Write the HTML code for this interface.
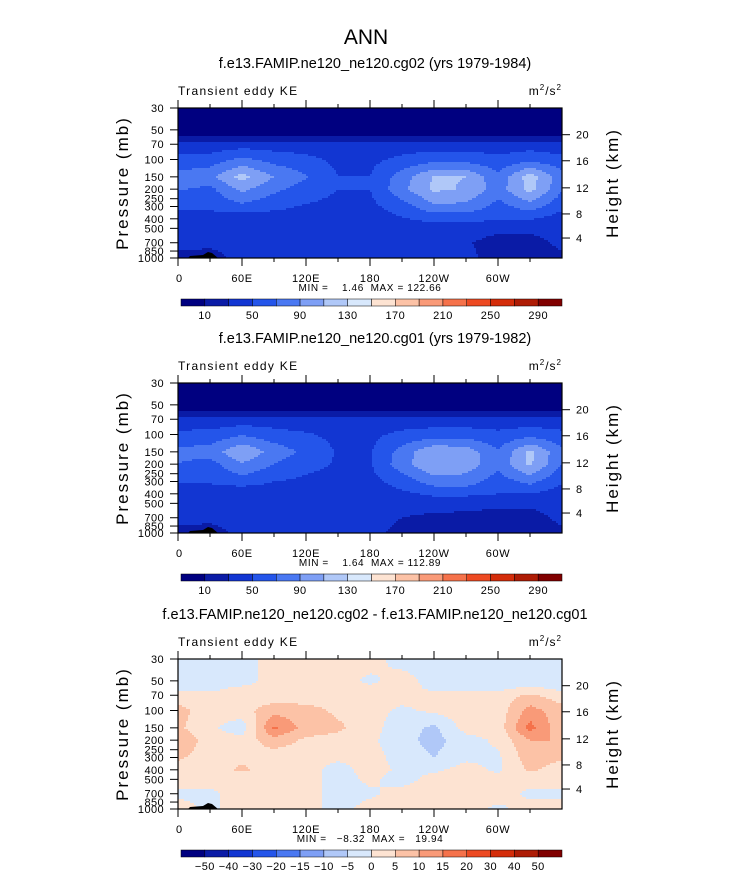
<!DOCTYPE html>
<html><head><meta charset="utf-8">
<style>
body{margin:0;background:#fff;}
svg{display:block;font-family:"Liberation Sans",sans-serif;}
text{white-space:pre;}
</style></head>
<body>
<svg id="fig" width="733" height="873" viewBox="0 0 733 873">
<text x="366" y="44" font-size="21" text-anchor="middle" fill="#000">ANN</text>
</svg>
<script>
// ---- data ----
const lons = [0,30,60,90,120,150,180,210,240,270,300,330,360];
const pLevels = [30,50,60,70,100,150,200,300,400,500,700,1000];
const keLevels = [10,30,50,70,90,110,130,150,170,190,210,230,250,270,290];
const keLabels = ['10','50','90','130','170','210','250','290'];
const diffLevels = [-50,-40,-30,-20,-15,-10,-5,0,5,10,15,20,30,40,50];
const diffLabels = ['−50','−40','−30','−20','−15','−10','−5','0','5','10','15','20','30','40','50'];
const lonTickLabels = ['0','60E','120E','180','120W','60W'];
const pTickValues = [30,50,70,100,150,200,250,300,400,500,700,850,1000];
const heightTicks = [20,16,12,8,4];
const heightTickP = [56,103,194,357,627];
const grid1 = [
 [4,4,4,4,4,4,4,4,4,4,4,4,4],
 [5,5,5,5,5,5,5,5,5,5,5,5,5],
 [12,12,12,12,12,12,12,12,12,12,12,12,12],
 [38,38,40,40,38,36,36,38,40,40,38,40,38],
 [55,58,75,62,56,45,45,55,62,62,55,64,55],
 [78,85,118,90,72,50,50,80,112,110,75,120,78],
 [72,65,95,75,60,50,50,85,114,108,80,118,72],
 [55,55,65,55,48,45,45,60,85,85,62,80,55],
 [40,40,36,40,40,40,40,48,56,56,52,52,40],
 [38,38,38,38,38,38,38,38,40,40,35,35,38],
 [35,35,35,35,35,35,35,35,35,32,22,22,35],
 [25,22,38,35,35,35,35,35,35,35,22,22,25]];
const grid2 = [
 [4,4,4,4,4,4,4,4,4,4,4,4,4],
 [5,5,5,5,5,5,5,5,5,5,5,5,5],
 [12,12,12,12,12,12,12,12,12,12,12,12,12],
 [37,37,38,38,37,35,35,37,38,38,37,38,37],
 [55,56,68,58,52,45,45,55,60,60,55,62,55],
 [75,80,108,82,65,48,48,78,108,102,72,114,75],
 [70,62,88,70,56,48,48,82,110,102,76,114,70],
 [52,52,60,50,46,44,44,58,80,80,60,76,52],
 [40,40,34,40,40,40,40,46,54,54,50,50,40],
 [38,38,38,38,38,38,38,38,38,38,34,34,38],
 [35,35,35,35,35,35,33,30,26,24,22,22,35],
 [25,22,36,35,35,35,32,28,25,25,22,22,25]];
const grid3 = [
 [-2,-2,-2,2,2,2,2,-2,-2,-2,-2,-2,-2],
 [-2,-2,-2,2,2,2,-1,2,-2,-2,-2,-2,-2],
 [-1,-1,1,2,2,2,1,2,-1,-1,-1,1,-1],
 [2,1,2,2,2,2,2,2,2,2,2,6,2],
 [7,2,3,8,7,4,2,-1,1,3,2,12,7],
 [6,1,-3,16,8,6,2,-3,-6,2,2,17,6],
 [10,2,2,8,4,3,1,-3,-7,-2,1,10,10],
 [6,2,4,2,2,1,2,-2,-5,-1,-1,8,6],
 [2,2,6,2,2,-2,2,-1,-1,2,-1,6,2],
 [2,2,2,2,2,-2,1,-2,2,2,2,2,2],
 [-1,-1,2,2,2,-2,-1,2,2,2,2,-1,-1],
 [2,-1,2,2,2,-2,2,2,2,2,-1,2,2]];
const colors = ['#000080','#0a1ba6','#1236d2','#2455ea','#4a78f2','#7e9ff5','#b0c8f8','#d8e8fc','#fde3d2','#fcc2a6','#f99a78','#f5724b','#ed4a22','#d42d0a','#ae1c05','#800000'];

// ---- layout ----
const NS='http://www.w3.org/2000/svg';
const svg=document.getElementById('fig');
const X0=178,X1=562,H=150;
function mk(tag,attrs,parent){const e=document.createElementNS(NS,tag);for(const k in attrs)e.setAttribute(k,attrs[k]);(parent||svg).appendChild(e);return e;}
function xScale(lon){return X0+(lon/360)*(X1-X0);}
function yScale(p,top){return top+H-(Math.log10(1000)-Math.log10(p))/(Math.log10(1000)-Math.log10(30))*H;}
function sample(grid,lon,lp){
  let i=Math.min(lons.length-2,Math.floor(lon/30));let fx=(lon-lons[i])/30;
  const lps=pLevels.map(p=>Math.log10(p));
  let j=0;while(j<lps.length-2&&lp>lps[j+1])j++;
  let fy=(lp-lps[j])/(lps[j+1]-lps[j]);fy=Math.max(0,Math.min(1,fy));
  const a=grid[j][i],b=grid[j][i+1],c=grid[j+1][i],d=grid[j+1][i+1];
  return (a*(1-fx)+b*fx)*(1-fy)+(c*(1-fx)+d*fx)*fy;
}
function level(v,levels){let k=0;while(k<levels.length&&v>=levels[k])k++;return k;}

function panel(n,top,grid,levels,title,minmax,cbLabels,cbEvery){
  const g=mk('g',{});
  
  
  const t=mk('text',{x:375,y:top-40,'font-size':14.5,'text-anchor':'middle'},g);t.textContent=title;
  
  const l=mk('text',{x:X0,y:top-13,'font-size':12,'letter-spacing':'1.3'},g);l.textContent='Transient eddy KE';
  
  const u=mk('text',{x:X1,y:top-13,'font-size':12,'text-anchor':'end','letter-spacing':'1'},g);
  u.innerHTML='m<tspan dy="-5" font-size="8">2</tspan><tspan dy="5">/s</tspan><tspan dy="-5" font-size="8">2</tspan>';
  
  const cg=mk('g',{'shape-rendering':'crispEdges'},g);
  
  const step=2,nx=(X1-X0)/step,ny=H/step;
  const lpTop=Math.log10(30),lpBot=3;
  for(let r=0;r<ny;r++){
    const lp=lpTop+(r+0.5)/ny*(lpBot-lpTop);
    let runStart=0,runK=-1;
    for(let c=0;c<=nx;c++){
      let k=-2;
      if(c<nx){const lon=(c+0.5)/nx*360;k=level(sample(grid,lon,lp),levels);}
      if(k!==runK){
        if(runK>=0){const rc=mk('rect',{x:X0+runStart*step,y:top+r*step,width:(c-runStart)*step,height:step,fill:colors[runK]},cg);
          }
        runStart=c;runK=k;
      }
    }
  }
  const tr=mk('path',{d:`M${X0+10} ${top+H} L${X0+12} ${top+H-2} L${X0+25} ${top+H-3} L${X0+30} ${top+H-6} L${X0+34} ${top+H-5} L${X0+40} ${top+H} Z`,fill:'#000'},g);
  
  mk('rect',{x:X0,y:top,width:X1-X0,height:H,fill:'none',stroke:'#000','stroke-width':1.2},g);
  for(let lon=0;lon<360;lon+=30){
    const x=xScale(lon),len=(lon%60===0)?8:4;
    mk('line',{x1:x,x2:x,y1:top,y2:top-len,stroke:'#000'},g);
    mk('line',{x1:x,x2:x,y1:top+H,y2:top+H+len,stroke:'#000'},g);
  }
  lonTickLabels.forEach((s,i)=>{const tx=mk('text',{x:xScale(i*60)+(i===0?-2:0),y:top+H+24,'font-size':11,'letter-spacing':'0.6','text-anchor':i===0?'start':'middle'},g);tx.textContent=s;
    });
  const mm=mk('text',{x:370,y:top+H+33,'font-size':10,'letter-spacing':'0.6','text-anchor':'middle'},g);mm.textContent=minmax;
  
  pTickValues.forEach(p=>{const y=yScale(p,top);mk('line',{x1:X0-8,x2:X0,y1:y,y2:y,stroke:'#000'},g);
    const tx=mk('text',{x:X0-14,y:y+4,'font-size':11,'letter-spacing':'0.4','text-anchor':'end'},g);tx.textContent=p;
    });
  heightTicks.forEach((h,i)=>{const y=yScale(heightTickP[i],top);mk('line',{x1:X1,x2:X1+8,y1:y,y2:y,stroke:'#000'},g);
    const tx=mk('text',{x:X1+14,y:y+4,'font-size':11,'letter-spacing':'0.4'},g);tx.textContent=h;
    });
  const yl=mk('text',{x:0,y:0,'font-size':17,'text-anchor':'middle','letter-spacing':'2',transform:`translate(128,${top+75}) rotate(-90)`},g);yl.textContent='Pressure (mb)';
  
  const yr=mk('text',{x:0,y:0,'font-size':17,'text-anchor':'middle','letter-spacing':'2',transform:`translate(618,${top+75}) rotate(-90)`},g);yr.textContent='Height (km)';
  
  const cy=top+191,cx0=181,cw=381/16;
  const cb=mk('g',{},g);
  colors.forEach((c,i)=>{const r=mk('rect',{x:cx0+i*cw,y:cy,width:cw,height:7,fill:c,stroke:'#000','stroke-width':0.5},cb);
    });
  cbLabels.forEach((s,i)=>{const b=i*cbEvery;const tx=mk('text',{x:cx0+(b+1)*cw,y:cy+20,'font-size':11,'letter-spacing':'0.4','text-anchor':'middle'},cb);tx.textContent=s;
    });
}
panel(1,108,grid1,keLevels,'f.e13.FAMIP.ne120_ne120.cg02 (yrs 1979-1984)','MIN =    1.46  MAX = 122.66',keLabels,2);
panel(2,383,grid2,keLevels,'f.e13.FAMIP.ne120_ne120.cg01 (yrs 1979-1982)','MIN =    1.64  MAX = 112.89',keLabels,2);
panel(3,659,grid3,diffLevels,'f.e13.FAMIP.ne120_ne120.cg02 - f.e13.FAMIP.ne120_ne120.cg01','MIN =   −8.32  MAX =   19.94',diffLabels,1);
</script>
</body></html>
